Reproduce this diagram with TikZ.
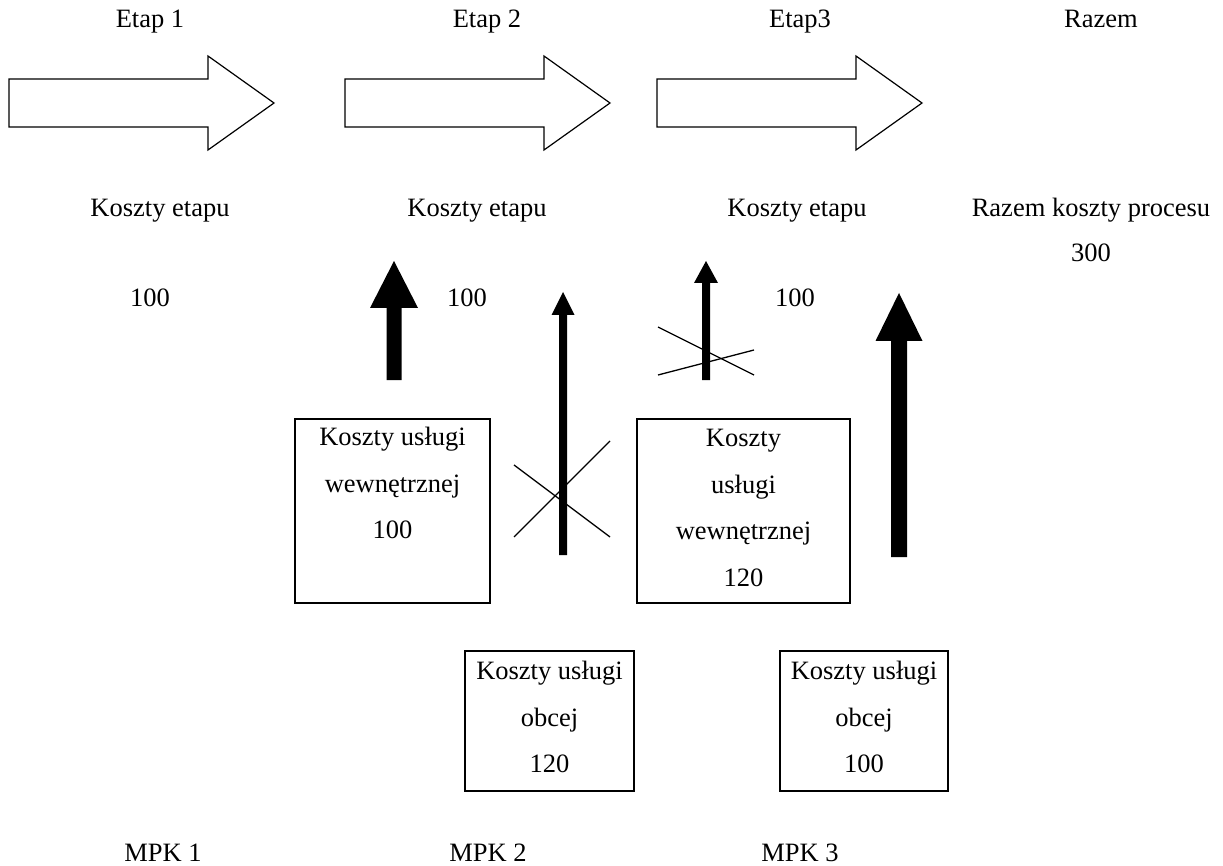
\documentclass[tikz,border=0pt]{standalone}
\usepackage{fontspec}
\setmainfont{Liberation Serif}

% solid up arrow: centre x, bottom y, shaft width, head base y, head width, tip y
\newcommand\UpArr[6]{%
  \fill ({#1-#3/2},#2) -- ({#1-#3/2},#4) -- ({#1-#5/2},#4) -- (#1,#6)
        -- ({#1+#5/2},#4) -- ({#1+#3/2},#4) -- ({#1+#3/2},#2) -- cycle;}

\begin{document}
\begin{tikzpicture}[x=1pt,y=-1pt,
  lbl/.style={anchor=base,inner sep=0pt,font=\fontsize{26.5}{46.5}\selectfont},
  costbox/.style={draw,line width=1.6pt,inner sep=0pt},
  boxtext/.style={anchor=north,inner sep=0pt,align=center,
                  font=\fontsize{26.5}{46.5}\selectfont},
  cross/.style={line width=1.3pt},
  stagearrow/.pic={\draw[line width=1.2pt,line join=miter,fill=white]
     (0,0) -- (199,0) -- (199,-23) -- (265,24) -- (199,71) -- (199,48)
     -- (0,48) -- cycle;}
]
\useasboundingbox (0,0) rectangle (1223,866);

% stage headings
\node[lbl] (e1) at (150,28) {Etap 1};
\node[lbl] (e2) at (487,28) {Etap 2};
\node[lbl] (e3) at (800,28) {Etap3};
\node[lbl] (er) at (1101,28) {Razem};

% stage arrows
\pic at (9,79) {stagearrow};
\pic at (345,79) {stagearrow};
\pic at (657,79) {stagearrow};

% stage costs
\node[lbl] (k1) at (160,217) {Koszty etapu};
\node[lbl] (k2) at (477,217) {Koszty etapu};
\node[lbl] (k3) at (797,217) {Koszty etapu};
\node[lbl] (kr) at (1091,217) {Razem koszty procesu};
\node[lbl] (vr) at (1091,262) {300};
\node[lbl] (v1) at (150,307) {100};
\node[lbl] (v2) at (467,307) {100};
\node[lbl] (v3) at (795,307) {100};

% cost boxes
\node[costbox,minimum width=195pt,minimum height=184pt] (b1) at (392.5,511) {};
\node[costbox,minimum width=213pt,minimum height=184pt] (b2) at (743.5,511) {};
\node[costbox,minimum width=169pt,minimum height=140pt] (b3) at (549.5,721) {};
\node[costbox,minimum width=168pt,minimum height=140pt] (b4) at (864,721) {};

\node[boxtext,yshift=-9pt] (t1) at (b1.north) {Koszty usługi\\wewnętrznej\\100};
\node[boxtext,yshift=-11pt] (t2) at (b2.north) {Koszty\\usługi\\wewnętrznej\\120};
\node[boxtext,yshift=-11pt] (t3) at (b3.north) {Koszty usługi\\obcej\\120};
\node[boxtext,yshift=-11pt] (t4) at (b4.north) {Koszty usługi\\obcej\\100};

% cost flows
\UpArr{394}{380}{15}{308}{48}{261}
\UpArr{563}{555}{8}{315}{23}{292}
\UpArr{706}{380}{8}{283}{24}{261}
\UpArr{899}{557}{16}{341}{47}{293}

% crossed-out flows
\draw[cross] (514,465) -- (610,537);
\draw[cross] (514,537) -- (610,441);
\draw[cross] (658,327) -- (754,375);
\draw[cross] (658,375) -- (754,350);

% cost centres
\node[lbl] (m1) at (163,861) {MPK 1};
\node[lbl] (m2) at (488,861) {MPK 2};
\node[lbl] (m3) at (800,861) {MPK 3};
\end{tikzpicture}
\end{document}
